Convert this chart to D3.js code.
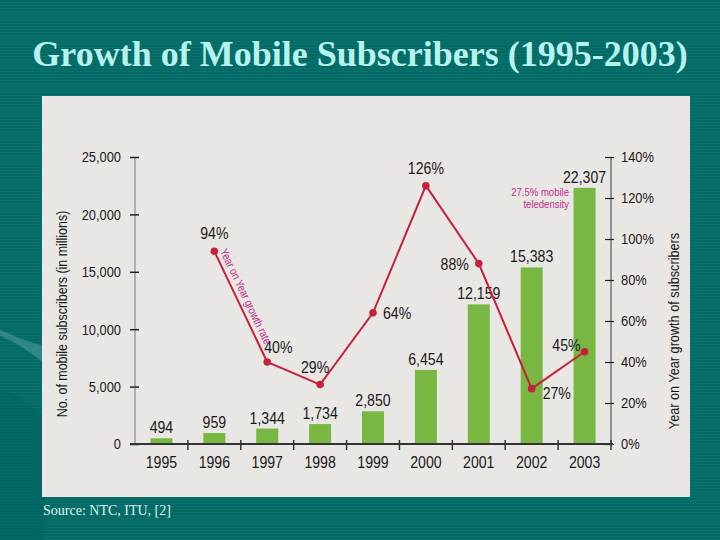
<!DOCTYPE html>
<html>
<head>
<meta charset="utf-8">
<script src="https://cdn.jsdelivr.net/npm/d3@7"></script>
<style>
  html, body { margin: 0; padding: 0; background: #036a66; }
  svg { display: block; }
</style>
</head>
<body>
<div id="chart"></div>
<script>
// values
const years = ["1995", "1996", "1997", "1998", "1999", "2000", "2001", "2002", "2003"];
const subscribers = [494, 959, 1344, 1734, 2850, 6454, 12159, 15383, 22307];
const growthYears = ["1996", "1997", "1998", "1999", "2000", "2001", "2002", "2003"];
const growthRate = [94, 40, 29, 64, 126, 88, 27, 45];
const leftTicks = [0, 5000, 10000, 15000, 20000, 25000];
const rightTicks = [0, 20, 40, 60, 80, 100, 120, 140];
// where each growth label sits around its point
const growthLabelSide = ["top", "right-up", "left-up", "right", "top", "left", "right-down", "left-up2"];

const W = 720, H = 540;
const sans = "'Liberation Sans', Arial, sans-serif";
const serif = "'Liberation Serif', 'Times New Roman', serif";
const SQ = 0.83; // horizontal squeeze, the chart uses a condensed face

// move x/y of a text into a transform so it can be squeezed sideways
function condense(sel, s)
{
  sel.each(function() {
    const t = d3.select(this);
    const x0 = +t.attr("x") || 0, y0 = +t.attr("y") || 0;
    t.attr("x", 0).attr("y", 0)
      .attr("transform", "translate(" + x0 + "," + y0 + ") scale(" + s + ",1)");
  });
}

const svg = d3.select("#chart").append("svg")
  .attr("width", W).attr("height", H);

// striped teal backdrop
const defs = svg.append("defs");
const pat = defs.append("pattern")
  .attr("id", "stripes").attr("width", 4).attr("height", 3)
  .attr("patternUnits", "userSpaceOnUse");
pat.append("rect").attr("width", 4).attr("height", 3).attr("fill", "#036a66");
pat.append("rect").attr("y", 2).attr("width", 4).attr("height", 1).attr("fill", "#0a716d");

svg.append("rect").attr("width", W).attr("height", H).attr("fill", "url(#stripes)");

// faint swooshes at the left edge
svg.append("path")
  .attr("d", "M0,388 C15,395 30,405 45,418 L45,540 L0,540 Z")
  .attr("fill", "#005f5b").attr("opacity", 0.35);
svg.append("path")
  .attr("d", "M0,330 C15,336 30,343 45,346 L45,364 C30,352 15,342 0,336 Z")
  .attr("fill", "#4a9a94").attr("opacity", 0.6);

svg.append("text")
  .attr("x", 360).attr("y", 66)
  .attr("text-anchor", "middle")
  .attr("font-family", serif)
  .attr("font-weight", "bold")
  .attr("font-size", "36px")
  .attr("fill", "#b6f3ef")
  .text("Growth of Mobile Subscribers (1995-2003)");

// light panel
svg.append("rect")
  .attr("x", 42).attr("y", 96).attr("width", 648).attr("height", 401)
  .attr("fill", "#e9e7e4");

svg.append("text")
  .attr("x", 43).attr("y", 515)
  .attr("font-family", serif)
  .attr("font-size", "14px")
  .attr("fill", "#dff2f0")
  .text("Source: NTC, ITU, [2]");

// scales
const x = d3.scaleBand().domain(years).range([135, 611]);
const yL = d3.scaleLinear().domain([0, 25000]).range([444, 157]);
const yR = d3.scaleLinear().domain([0, 140]).range([444, 157]);

const g = svg.append("g");

// bars
const barW = 22;
g.selectAll(".bar")
  .data(subscribers)
  .enter().append("rect")
  .attr("class", "bar")
  .attr("x", (d, i) => x(years[i]) + x.bandwidth() / 2 - barW / 2)
  .attr("y", d => yL(d))
  .attr("width", barW)
  .attr("height", d => yL(0) - yL(d))
  .attr("fill", "#79b743");

g.selectAll(".barlabel")
  .data(subscribers)
  .enter().append("text")
  .attr("class", "barlabel")
  .attr("x", (d, i) => x(years[i]) + x.bandwidth() / 2)
  .attr("y", d => yL(d) - 5)
  .attr("text-anchor", "middle")
  .attr("font-family", sans)
  .attr("font-size", "17px")
  .attr("fill", "#1a1a1a")
  .text(d => d3.format(",")(d))
  .call(condense, SQ);

// left axis
const leftAxis = g.append("g")
  .attr("transform", "translate(135,0)")
  .call(d3.axisLeft(yL).tickValues(leftTicks).tickFormat(d3.format(",")).tickSize(0).tickPadding(14));
leftAxis.select(".domain").attr("stroke", "#8a8a8a").attr("stroke-width", 1.2)
  .attr("d", "M0,157V444");
leftAxis.selectAll(".tick").append("line")
  .attr("x1", -5).attr("x2", 4).attr("stroke", "#222").attr("stroke-width", 1.5);
leftAxis.selectAll(".tick text")
  .attr("font-family", sans).attr("font-size", "15.5px").attr("fill", "#1a1a1a")
  .call(condense, SQ);

// right axis
const rightAxis = g.append("g")
  .attr("transform", "translate(611,0)")
  .call(d3.axisRight(yR).tickValues(rightTicks).tickFormat(d => d + "%").tickSize(0).tickPadding(10));
rightAxis.select(".domain").attr("stroke", "#555").attr("stroke-width", 1.2)
  .attr("d", "M0,157V444");
rightAxis.selectAll(".tick").append("line")
  .attr("x1", -6).attr("x2", 3).attr("stroke", "#222").attr("stroke-width", 1.2);
rightAxis.selectAll(".tick text")
  .attr("font-family", sans).attr("font-size", "15.5px").attr("fill", "#1a1a1a")
  .call(condense, SQ);

// bottom axis
const bottomAxis = g.append("g")
  .attr("transform", "translate(0,444)")
  .call(d3.axisBottom(x).tickSize(0).tickPadding(9));
bottomAxis.select(".domain").attr("stroke", "#333").attr("stroke-width", 2)
  .attr("d", "M130,0H613");
bottomAxis.selectAll(".tick text")
  .attr("font-family", sans).attr("font-size", "17px").attr("fill", "#1a1a1a")
  .attr("dy", "0.9em")
  .call(condense, SQ);
g.selectAll(".sep")
  .data(years.slice(1).concat(["end"]))
  .enter().append("line")
  .attr("class", "sep")
  .attr("x1", d => d === "end" ? 611 : x(d))
  .attr("x2", d => d === "end" ? 611 : x(d))
  .attr("y1", 440).attr("y2", 450)
  .attr("stroke", "#333").attr("stroke-width", 1.5);

// growth line
const cx = d => x(d) + x.bandwidth() / 2;
const line = d3.line()
  .x((d, i) => cx(growthYears[i]))
  .y(d => yR(d));

g.append("path")
  .datum(growthRate)
  .attr("d", line)
  .attr("fill", "none")
  .attr("stroke", "#c5203c")
  .attr("stroke-width", 2);

g.selectAll(".pt")
  .data(growthRate)
  .enter().append("path")
  .attr("class", "pt")
  .attr("transform", (d, i) => "translate(" + cx(growthYears[i]) + "," + yR(d) + ")")
  .attr("d", d3.symbol().type(d3.symbolCircle).size(45))
  .attr("fill", "#c5203c");

function labelOffset(side)
{
  if (side === "top") return {dx: 0, dy: -12, anchor: "middle"};
  if (side === "right-up") return {dx: -3, dy: -9, anchor: "start"};
  if (side === "left-up") return {dx: -5, dy: -12, anchor: "middle"};
  if (side === "left-up2") return {dx: -4, dy: -1, anchor: "end"};
  if (side === "right") return {dx: 10, dy: 6, anchor: "start"};
  if (side === "left") return {dx: -10, dy: 6, anchor: "end"};
  return {dx: 11, dy: 10, anchor: "start"};
}

g.selectAll(".ptlabel")
  .data(growthRate)
  .enter().append("text")
  .attr("class", "ptlabel")
  .each(function(d, i) {
    const o = labelOffset(growthLabelSide[i]);
    d3.select(this)
      .attr("x", cx(growthYears[i]) + o.dx)
      .attr("y", yR(d) + o.dy)
      .attr("text-anchor", o.anchor);
  })
  .attr("font-family", sans)
  .attr("font-size", "17px")
  .attr("fill", "#1a1a1a")
  .text(d => d + "%")
  .call(condense, SQ);

// axis titles
svg.append("text")
  .attr("transform", "translate(67,314) rotate(-90) scale(" + SQ + ",1)")
  .attr("text-anchor", "middle")
  .attr("font-family", sans)
  .attr("font-size", "15px")
  .attr("fill", "#1a1a1a")
  .text("No. of mobile subscribers (in millions)");

svg.append("text")
  .attr("transform", "translate(679,331) rotate(-90) scale(" + SQ + ",1)")
  .attr("text-anchor", "middle")
  .attr("font-family", sans)
  .attr("font-size", "15.3px")
  .attr("fill", "#1a1a1a")
  .text("Year on Year growth of subscribers");

// magenta notes
const p0 = [cx(growthYears[0]), yR(growthRate[0])];
const p1 = [cx(growthYears[1]), yR(growthRate[1])];
const rad = Math.atan2(p1[1] - p0[1], p1[0] - p0[0]);
const ang = rad * 180 / Math.PI;
const ux = Math.cos(rad), uy = Math.sin(rad);
svg.append("text")
  .attr("transform", "translate(" + (p0[0] + 2 * ux + 5 * uy) + "," + (p0[1] + 2 * uy - 5 * ux) + ") rotate(" + ang + ") scale(" + SQ + ",1)")
  .attr("font-family", sans)
  .attr("font-size", "11.5px")
  .attr("fill", "#c42a8c")
  .text("Year on Year growth rate");

const note = svg.append("text")
  .attr("text-anchor", "end")
  .attr("transform", "translate(569,196) scale(" + SQ + ",1)")
  .attr("font-family", sans)
  .attr("font-size", "11.5px")
  .attr("fill", "#c42a8c");
note.append("tspan").attr("x", 0).attr("y", 0).text("27.5% mobile");
note.append("tspan").attr("x", 0).attr("y", 12).text("teledensity");
</script>
</body>
</html>
